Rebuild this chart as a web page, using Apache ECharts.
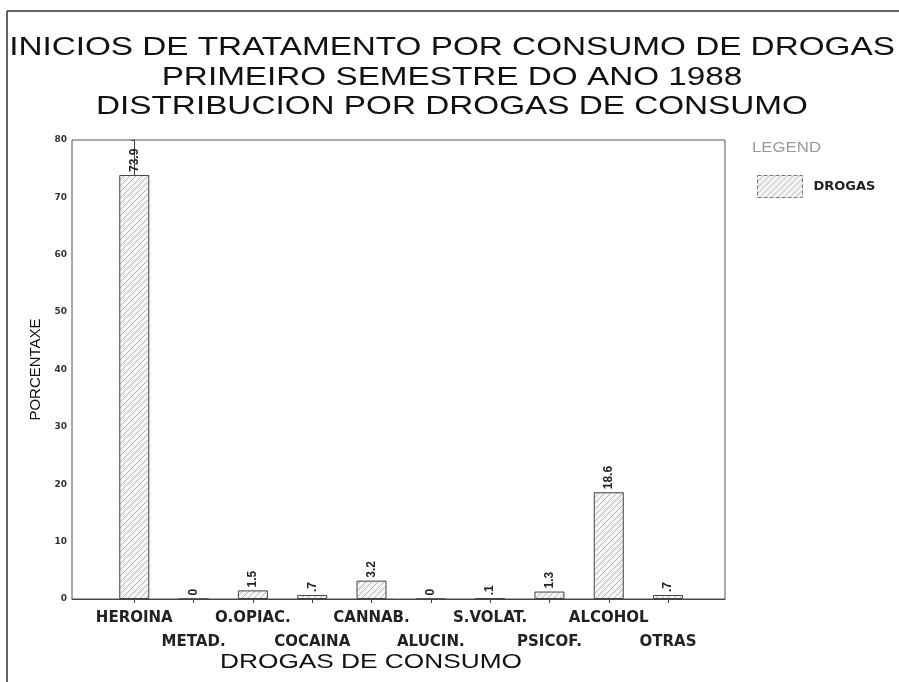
<!DOCTYPE html>
<html>
<head>
<meta charset="utf-8">
<script src="https://cdn.jsdelivr.net/npm/echarts@6/dist/echarts.min.js"></script>
<style>
  html, body { margin: 0; padding: 0; background: #fff; }
  #main { width: 899px; height: 682px; }
</style>
</head>
<body>
<div id="main"></div>
<script>
const categories = ['HEROINA', 'METAD.', 'O.OPIAC.', 'COCAINA', 'CANNAB.', 'ALUCIN.', 'S.VOLAT.', 'PSICOF.', 'ALCOHOL', 'OTRAS'];
const drogas = [73.9, 0, 1.5, 0.7, 3.2, 0, 0.1, 1.3, 18.6, 0.7];
const titleLines = [
    'INICIOS DE TRATAMENTO POR CONSUMO DE DROGAS',
    'PRIMEIRO SEMESTRE DO ANO 1988',
    'DISTRIBUCION POR DROGAS DE CONSUMO'
];

const myChart = echarts.init(document.getElementById('main'));

// hatched fill like the old plotter output
function hatch() {
    const c = document.createElement('canvas');
    c.width = 6;
    c.height = 6;
    const ctx = c.getContext('2d');
    ctx.fillStyle = '#f5f5f5';
    ctx.fillRect(0, 0, 6, 6);
    ctx.strokeStyle = '#b4b4b4';
    ctx.lineWidth = 1;
    ctx.beginPath();
    ctx.moveTo(0, 6); ctx.lineTo(6, 0);
    ctx.moveTo(-3, 3); ctx.lineTo(3, -3);
    ctx.moveTo(3, 9); ctx.lineTo(9, 3);
    ctx.stroke();
    return c;
}
const fill = {image: hatch(), repeat: 'repeat'};

const titleText = titleLines.map(function (t, i) {
    return {
        type: 'text',
        x: 452,
        y: 48 + i * 29.5,
        scaleX: 1.28,
        style: {
            text: t,
            font: '26px "Liberation Sans"',
            fill: '#111',
            textAlign: 'center',
            textVerticalAlign: 'middle'
        }
    };
});

const catIndex = categories.map(function (c, i) { return i; });
// labels are staggered on two rows: even ones on the first, odd ones below
const rowOne = catIndex.filter(function (i) { return i % 2 === 0; });
const rowTwo = catIndex.filter(function (i) { return i % 2 === 1; });

const labelFont = {
    fontFamily: 'DejaVu Sans',
    fontWeight: 'bold',
    fontSize: 15,
    color: '#222',
    margin: 12,
    showMinLabel: true,
    showMaxLabel: true,
    formatter: function (v) { return categories[Math.round(v)]; }
};

let option = {
    backgroundColor: '#fff',
    animation: false,
    graphic: titleText.concat([
        {
            type: 'line',
            shape: {x1: 7, y1: 11, x2: 899, y2: 11},
            style: {stroke: '#333', lineWidth: 1.5}
        },
        {
            type: 'line',
            shape: {x1: 7, y1: 11, x2: 7, y2: 682},
            style: {stroke: '#333', lineWidth: 1.5}
        },
        {
            type: 'text',
            x: 752,
            y: 148,
            scaleX: 1.2,
            style: {
                text: 'LEGEND',
                font: '14px "Liberation Sans"',
                fill: '#9a9a9a',
                textVerticalAlign: 'middle'
            }
        },
        {
            type: 'text',
            x: 371,
            y: 662,
            scaleX: 1.25,
            style: {
                text: 'DROGAS DE CONSUMO',
                font: '21px "Liberation Sans"',
                fill: '#111',
                textAlign: 'center',
                textVerticalAlign: 'middle'
            }
        }
    ]),
    legend: {
        left: 752,
        top: 170,
        itemWidth: 45,
        itemHeight: 22,
        icon: 'rect',
        data: ['DROGAS'],
        itemStyle: {borderColor: '#777', borderWidth: 1, borderType: 'dashed'},
        textStyle: {
            fontFamily: 'DejaVu Sans',
            fontWeight: 'bold',
            fontSize: 13,
            color: '#222',
            padding: [12, 0, 0, 6]
        }
    },
    grid: {
        left: 72,
        right: 174,
        top: 140,
        bottom: 83,
        show: true,
        borderColor: '#555',
        borderWidth: 1
    },
    xAxis: [
        {
            type: 'value',
            min: -1.05,
            max: 9.96,
            splitLine: {show: false},
            axisLine: {show: true, lineStyle: {color: '#444'}},
            axisTick: {
                show: true,
                length: 4,
                customValues: catIndex,
                lineStyle: {color: '#444'}
            },
            axisLabel: Object.assign({customValues: rowOne}, labelFont)
        },
        {
            type: 'value',
            position: 'bottom',
            offset: 24,
            min: -1.05,
            max: 9.96,
            splitLine: {show: false},
            axisLine: {show: false},
            axisTick: {show: false},
            axisLabel: Object.assign({customValues: rowTwo}, labelFont)
        }
    ],
    yAxis: {
        type: 'value',
        min: 0,
        max: 80,
        interval: 10,
        name: 'PORCENTAXE',
        nameLocation: 'middle',
        nameRotate: 90,
        nameGap: 27,
        nameTextStyle: {fontFamily: 'Liberation Sans', fontSize: 15, color: '#111'},
        splitLine: {show: false},
        axisLine: {show: true, lineStyle: {color: '#444'}},
        axisTick: {show: true, length: 3, lineStyle: {color: '#444'}},
        axisLabel: {
            margin: 5,
            fontFamily: 'DejaVu Sans',
            fontWeight: 'bold',
            fontSize: 9,
            color: '#333'
        }
    },
    series: [
        {
            name: 'DROGAS',
            type: 'bar',
            xAxisIndex: 0,
            barWidth: 30,
            data: drogas.map(function (v, i) { return [i, v]; }),
            itemStyle: {color: fill, borderColor: '#444', borderWidth: 1},
            label: {
                show: true,
                position: 'top',
                rotate: 90,
                align: 'left',
                verticalAlign: 'middle',
                distance: 3,
                fontFamily: 'Liberation Sans',
                fontWeight: 'bold',
                fontSize: 12,
                color: '#222',
                formatter: function (p) {
                    const v = p.value[1];
                    if (v === 0) return '0';
                    return v < 1 ? String(v).replace(/^0/, '') : String(v);
                }
            }
        }
    ]
};

myChart.setOption(option);
</script>
</body>
</html>
